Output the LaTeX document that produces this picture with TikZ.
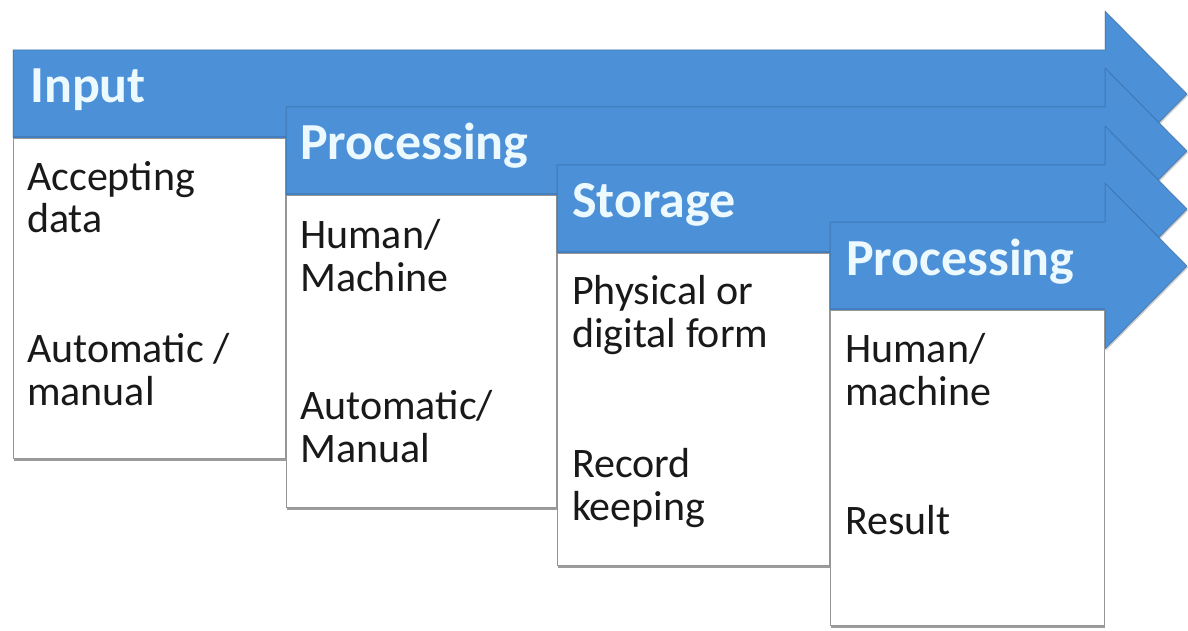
\documentclass[tikz,border=0pt]{standalone}
\usepackage{fontspec}
\setmainfont{Carlito}
\usetikzlibrary{shadows}
\definecolor{barblue}{RGB}{76,144,216}
\definecolor{boxedge}{RGB}{150,150,150}
\definecolor{ink}{RGB}{25,25,25}
\definecolor{headink}{RGB}{236,250,255}

% one stage arrow: start x, middle y (y grows downwards)
\newcommand{\stagearrow}[2]{%
  \path[fill=barblue, drop shadow={opacity=0.35, shadow xshift=1.2pt, shadow yshift=-1.5pt}]
    (#1,#2-44) -- (1105,#2-44) -- (1105,#2-83) -- (1187,#2)
    -- (1105,#2+83) -- (1105,#2+44) -- (#1,#2+44) -- cycle;
  % soft darker rim of the arrow
  \draw[barblue!65!black, line width=1pt, opacity=0.45, line join=round]
    (#1,#2+44) -- (#1,#2-44) -- (1105,#2-44) -- (1105,#2-83) -- (1187,#2)
    -- (1105,#2+83) -- (1105,#2+44);
  \draw[barblue!80!black, line width=1.2pt, opacity=0.6] (#1,#2+43) -- (1105,#2+43);
}

\begin{document}
\begin{tikzpicture}[x=1pt, y=-1pt,
  stagebox/.style={draw=boxedge, line width=0.8pt, fill=white, anchor=north west,
    inner sep=0pt, drop shadow={opacity=0.55, shadow xshift=1pt, shadow yshift=-3pt, fill=black!70}},
  headtext/.style={anchor=base west, inner sep=0pt, text=headink,
    font=\fontsize{52}{58}\selectfont\bfseries},
  bodytext/.style={anchor=base west, inner sep=0pt, text=ink,
    font=\fontsize{42}{46}\selectfont}]
\useasboundingbox[fill=white] (0,0) rectangle (1188,631);

% stage 1: Input
\stagearrow{13}{94}
\node[stagebox, minimum width=272pt, minimum height=320pt] (box1) at (13,138) {};
\node[headtext] (h1) at (30,103) {Input};
\node[bodytext] (t1a) at (27,190) {Accepting};
\node[bodytext] (t1b) at (27,233) {data};
\node[bodytext] (t1c) at (27,362) {Automatic /};
\node[bodytext] (t1d) at (27,405) {manual};

% stage 2: Processing
\stagearrow{286}{151}
\node[stagebox, minimum width=270pt, minimum height=312pt] (box2) at (286,195) {};
\node[headtext] (h2) at (300,160) {Processing};
\node[bodytext] (t2a) at (300,248) {Human/};
\node[bodytext] (t2b) at (300,291) {Machine};
\node[bodytext] (t2c) at (300,419) {Automatic/};
\node[bodytext] (t2d) at (300,462) {Manual};

% stage 3: Storage
\stagearrow{557}{209}
\node[stagebox, minimum width=272pt, minimum height=312pt] (box3) at (557,253) {};
\node[headtext] (h3) at (572,217) {Storage};
\node[bodytext] (t3a) at (572,304) {Physical or};
\node[bodytext] (t3b) at (572,347) {digital form};
\node[bodytext] (t3c) at (572,477) {Record};
\node[bodytext] (t3d) at (572,520) {keeping};

% stage 4: Processing
\stagearrow{830}{266}
\node[stagebox, minimum width=274pt, minimum height=315pt] (box4) at (830,310) {};
\node[headtext] (h4) at (846,275) {Processing};
\node[bodytext] (t4a) at (845,362) {Human/};
\node[bodytext] (t4b) at (845,405) {machine};
\node[bodytext] (t4c) at (845,534) {Result};
\end{tikzpicture}
\end{document}
